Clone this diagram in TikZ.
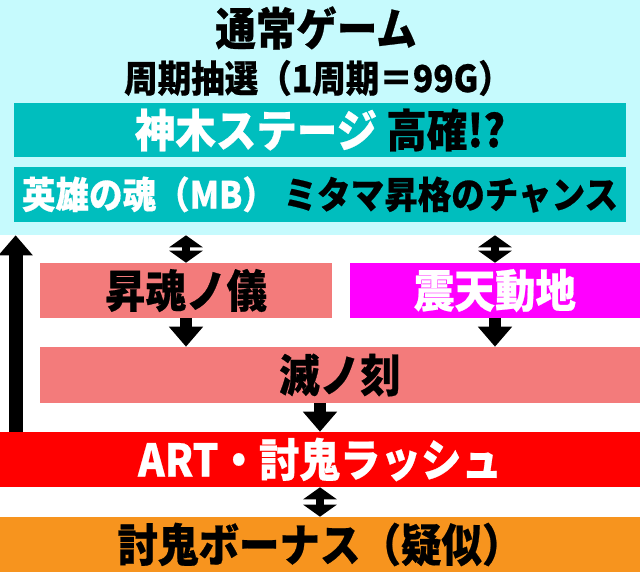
\documentclass[tikz,border=0pt]{standalone}
\usepackage{fontspec}
\setmainfont{Noto Sans CJK JP}[BoldFeatures={FakeStretch=0.9, FakeBold=0.5}]
\usetikzlibrary{arrows.meta}

\definecolor{normalbg}{RGB}{198,250,253}
\definecolor{stagebox}{RGB}{0,190,190}
\definecolor{ritebox}{RGB}{243,123,123}
\definecolor{quakebox}{RGB}{255,0,255}
\definecolor{rushbox}{RGB}{255,0,0}
\definecolor{bonusbox}{RGB}{247,148,30}

\begin{document}
\begin{tikzpicture}[
    x=0.025cm, y=-0.025cm,
    every node/.style={inner sep=0pt, font=\bfseries},
    band/.style={rectangle, minimum height=1.375cm},
    big/.style={font=\bfseries\fontsize{32}{32}\selectfont},
    mid/.style={font=\bfseries\fontsize{26.5}{26.5}\selectfont},
    flow/.style={line width=0.3cm, -{Triangle[width=0.825cm, length=0.5cm]}},
    swap/.style={line width=0.2cm, {Triangle[width=0.825cm, length=0.3cm]}-{Triangle[width=0.825cm, length=0.3cm]}}
]
\useasboundingbox (0,0) rectangle (640,572);

\node[band, fill=normalbg, minimum width=16cm, minimum height=5.875cm] (normal) at (320,117.5) {};
\node[big] (title) at (316,28) {通常ゲーム};
\node[mid] (cycle) at (318,78) {周期抽選（1周期＝99G）};
\node[band, fill=stagebox, minimum width=15.3cm, minimum height=1.35cm, big] (stage) at (320,130) {\textcolor{white}{神木ステージ} 高確!?};
\node[band, fill=stagebox, minimum width=15.3cm, mid] (hero) at (320,194.5) {\textcolor{white}{英雄の魂（MB）} ミタマ昇格のチャンス};

\node[band, fill=ritebox, minimum width=7.3cm, big] (shokon) at (186,290.5) {昇魂ノ儀};
\node[band, fill=quakebox, text=white, minimum width=7.25cm, big] (shinten) at (495,290.5) {震天動地};
\node[band, fill=ritebox, minimum width=15cm, minimum height=1.4cm, big] (metsu) at (340,375) {滅ノ刻};
\node[band, fill=rushbox, text=white, minimum width=16cm, big] (rush) at (320,459.5) {ART・討鬼ラッシュ};
\node[band, fill=bonusbox, minimum width=16cm, big] (bonus) at (320,544.5) {討鬼ボーナス（疑似）};

\draw[swap] (shokon.north |- normal.south) -- (shokon.north);
\draw[swap] (shinten.north |- normal.south) -- (shinten.north);
\draw[flow] (shokon.south) -- (shokon.south |- metsu.north);
\draw[flow] (shinten.south) -- (shinten.south |- metsu.north);
\draw[flow] (rush.north |- metsu.south) -- (rush.north);
\draw[swap] (rush.south) -- (bonus.north);
\draw[flow, line width=0.35cm] ([xshift=0.4cm]rush.north west) -- ([xshift=0.4cm]rush.north west |- normal.south);
\end{tikzpicture}
\end{document}
